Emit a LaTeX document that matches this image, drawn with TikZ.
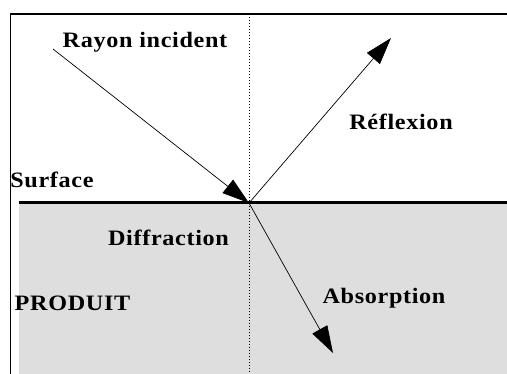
\documentclass[tikz,border=0pt]{standalone}
\usepackage{fontspec}
\setmainfont{Liberation Serif}[LetterSpace=3,FakeStretch=1.1]
\usetikzlibrary{arrows.meta}
\definecolor{prodgray}{HTML}{DEDEDE}
\begin{document}
\begin{tikzpicture}[x=1pt,y=-1pt,
  lbl/.style={font=\bfseries\fontsize{22}{22}\selectfont, inner sep=0pt, anchor=base},
  ray/.style={line width=0.7pt, -{Triangle[length=27pt,width=17pt]}}]
\useasboundingbox (0,0) rectangle (507,374);
\fill[prodgray] (19,203) rectangle (507,374);
\draw[line width=1.2pt] (10.5,374) -- (10.5,14) -- (507,14);
\draw[line width=0.6pt, dash pattern=on 1.5pt off 1.5pt] (249,14) -- (249,374);
\coordinate (sl) at (19,203);
\coordinate (sr) at (507,203);
\draw[line width=3pt] (sl) -- (sr);
\coordinate (o) at (249,203);
\coordinate (inc) at (53,49);
\coordinate (refl) at (391,38);
\coordinate (abs) at (333,353);
\draw[ray] (inc) -- (o);
\draw[ray] (o) -- (refl);
\draw[ray] (o) -- (abs);
\node[lbl] (t1) at (145,48) {Rayon incident};
\node[lbl] (t2) at (401,130) {Réflexion};
\node[lbl] (t3) at (52,188) {Surface};
\node[lbl] (t4) at (168.5,246) {Diffraction};
\node[lbl] (t5) at (72.5,311) {PRODUIT};
\node[lbl] (t6) at (384,304) {Absorption};
\end{tikzpicture}
\end{document}
